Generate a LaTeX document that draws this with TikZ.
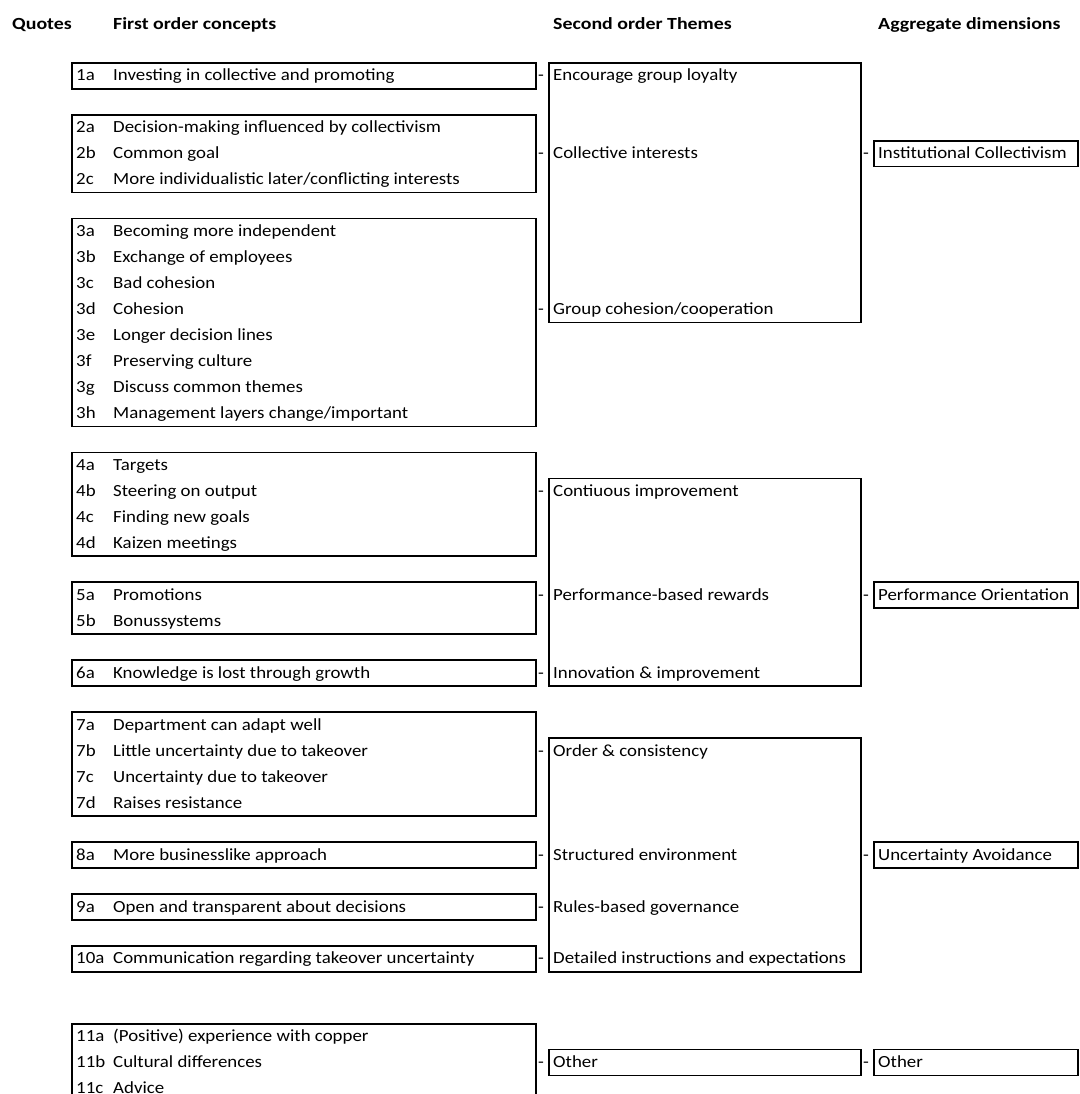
\documentclass[tikz,border=0pt]{standalone}
\usepackage{fontspec}
\setmainfont{Carlito}[FakeStretch=1.11,BoldFeatures={FakeStretch=1.17}]
\newcommand\ry[1]{(-75-(#1-3)*25.97)}
\begin{document}
\begin{tikzpicture}[x=1pt,y=1pt,
  box/.style={draw=black,line width=1.6pt,anchor=north west,inner sep=0pt},
  fobox/.style={box,minimum width=464pt},
  sobox/.style={box,minimum width=312pt},
  agbox/.style={box,minimum width=204pt},
  txt/.style={anchor=base west,inner sep=0pt,font=\fontsize{17}{19}\selectfont},
  hdr/.style={anchor=base west,inner sep=0pt,font=\fontsize{17}{19}\selectfont\bfseries},
  dsh/.style={anchor=base,inner sep=0pt,font=\fontsize{17}{19}\selectfont}]
\useasboundingbox (0,0) rectangle (1079,-1094);
\clip (0,0) rectangle (1079,-1094);
\fill[white] (0,0) rectangle (1079,-1094);
% headers
\node[hdr] (hq) at (12,{\ry{1}-6}) {Quotes};
\node[hdr] (hf) at (113,{\ry{1}-6}) {First order concepts};
\node[hdr] (hs) at (553,{\ry{1}-6}) {Second order Themes};
\node[hdr] (ha) at (878,{\ry{1}-6}) {Aggregate dimensions};
% first order boxes
\node[fobox,minimum height=1*25.97pt] (b1) at (71,{\ry{3}+12.985}) {};
\node[fobox,minimum height=3*25.97pt] (b2) at (71,{\ry{5}+12.985}) {};
\node[fobox,minimum height=8*25.97pt] (b3) at (71,{\ry{9}+12.985}) {};
\node[fobox,minimum height=4*25.97pt] (b4) at (71,{\ry{18}+12.985}) {};
\node[fobox,minimum height=2*25.97pt] (b5) at (71,{\ry{23}+12.985}) {};
\node[fobox,minimum height=1*25.97pt] (b6) at (71,{\ry{26}+12.985}) {};
\node[fobox,minimum height=4*25.97pt] (b7) at (71,{\ry{28}+12.985}) {};
\node[fobox,minimum height=1*25.97pt] (b8) at (71,{\ry{33}+12.985}) {};
\node[fobox,minimum height=1*25.97pt] (b9) at (71,{\ry{35}+12.985}) {};
\node[fobox,minimum height=1*25.97pt] (b10) at (71,{\ry{37}+12.985}) {};
\node[fobox,minimum height=4*25.97pt] (b11) at (71,{\ry{40}+12.985}) {};
% second order boxes
\node[sobox,minimum height=10*25.97pt] (s1) at (548,{\ry{3}+12.985}) {};
\node[sobox,minimum height=8*25.97pt] (s2) at (548,{\ry{19}+12.985}) {};
\node[sobox,minimum height=9*25.97pt] (s3) at (548,{\ry{29}+12.985}) {};
\node[sobox,minimum height=1*25.97pt] (s4) at (548,{\ry{41}+12.985}) {};
% aggregate boxes
\node[agbox,minimum height=1*25.97pt] (a1) at (873,{\ry{6}+12.985}) {};
\node[agbox,minimum height=1*25.97pt] (a2) at (873,{\ry{23}+12.985}) {};
\node[agbox,minimum height=1*25.97pt] (a3) at (873,{\ry{33}+12.985}) {};
\node[agbox,minimum height=1*25.97pt] (a4) at (873,{\ry{41}+12.985}) {};
% first order lines
\foreach \r/\k/\t [count=\i] in {
  3/1a/Investing in collective and promoting,
  5/2a/Decision-making influenced by collectivism,
  6/2b/Common goal,
  7/2c/More individualistic later{/}conflicting interests,
  9/3a/Becoming more independent,
  10/3b/Exchange of employees,
  11/3c/Bad cohesion,
  12/3d/Cohesion,
  13/3e/Longer decision lines,
  14/3f/Preserving culture,
  15/3g/Discuss common themes,
  16/3h/Management layers change{/}important,
  18/4a/Targets,
  19/4b/Steering on output,
  20/4c/Finding new goals,
  21/4d/Kaizen meetings,
  23/5a/Promotions,
  24/5b/Bonussystems,
  26/6a/Knowledge is lost through growth,
  28/7a/Department can adapt well,
  29/7b/Little uncertainty due to takeover,
  30/7c/Uncertainty due to takeover,
  31/7d/Raises resistance,
  33/8a/More businesslike approach,
  35/9a/Open and transparent about decisions,
  37/10a/Communication regarding takeover uncertainty,
  40/11a/(Positive) experience with copper,
  41/11b/Cultural differences,
  42/11c/Advice}{
  \node[txt] (k\i) at (76,{\ry{\r}-6}) {\k};
  \node[txt] (t\i) at (113,{\ry{\r}-6}) {\t};
}
% second order texts and dashes
\foreach \r/\t [count=\i] in {
  3/Encourage group loyalty,
  6/Collective interests,
  12/Group cohesion{/}cooperation,
  19/Contiuous improvement,
  23/Performance-based rewards,
  26/Innovation \& improvement,
  29/Order \& consistency,
  33/Structured environment,
  35/Rules-based governance,
  37/Detailed instructions and expectations,
  41/Other}{
  \node[dsh] (d\i) at (541,{\ry{\r}-6}) {-};
  \node[txt] (st\i) at (553,{\ry{\r}-6}) {\t};
}
% aggregate texts and dashes
\foreach \r/\t [count=\i] in {
  6/Institutional Collectivism,
  23/Performance Orientation,
  33/Uncertainty Avoidance,
  41/Other}{
  \node[dsh] (ad\i) at (866,{\ry{\r}-6}) {-};
  \node[txt] (at\i) at (878,{\ry{\r}-6}) {\t};
}
\end{tikzpicture}
\end{document}
